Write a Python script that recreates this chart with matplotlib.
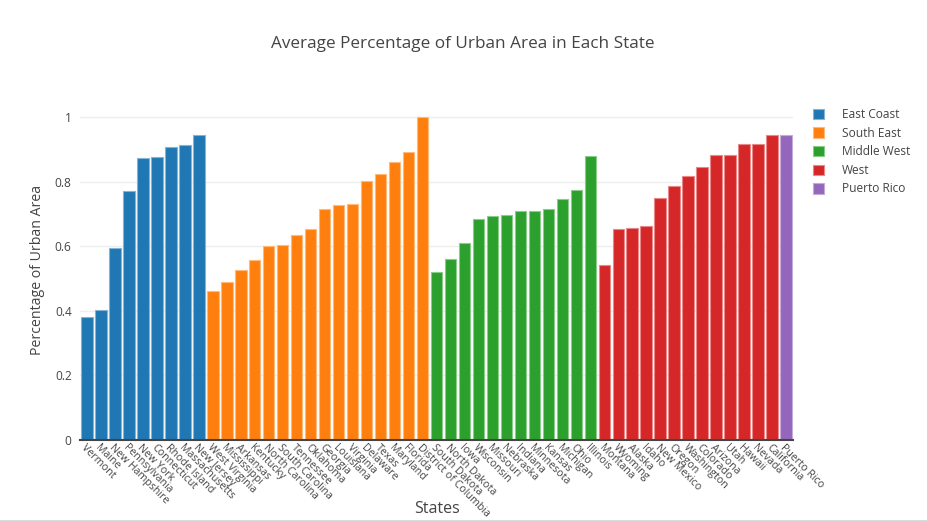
import matplotlib
matplotlib.use("Agg")
import matplotlib.pyplot as plt
from matplotlib.patches import Patch
from matplotlib.lines import Line2D
import matplotlib.colors as mcolors
import numpy as np

plt.rcParams['font.family'] = ['Open Sans', 'DejaVu Sans']

east_states = ["Vermont", "Maine", "New Hampshire", "Pennsylvania", "New York",
               "Connecticut", "Rhode Island", "Massachusetts", "New Jersey"]
east_vals = [0.381, 0.402, 0.593, 0.771, 0.874, 0.877, 0.908, 0.914, 0.943]

southeast_states = ["West Virginia", "Mississippi", "Arkansas", "Kentucky", "North Carolina",
                    "South Carolina", "Tennessee", "Oklahoma", "Georgia", "Louisiana",
                    "Virginia", "Delaware", "Texas", "Maryland", "Florida",
                    "District of Columbia"]
southeast_vals = [0.460, 0.488, 0.526, 0.557, 0.602, 0.605, 0.636, 0.653, 0.716, 0.726,
                  0.730, 0.801, 0.825, 0.860, 0.893, 1.0]

midwest_states = ["South Dakota", "North Dakota", "Iowa", "Wisconsin", "Missouri",
                  "Nebraska", "Indiana", "Minnesota", "Kansas", "Michigan", "Ohio",
                  "Illinois"]
midwest_vals = [0.519, 0.559, 0.610, 0.684, 0.694, 0.698, 0.708, 0.710, 0.714, 0.746,
                0.773, 0.878]

west_states = ["Montana", "Wyoming", "Alaska", "Idaho", "New Mexico", "Oregon",
               "Washington", "Colorado", "Arizona", "Utah", "Hawaii", "Nevada",
               "California"]
west_vals = [0.541, 0.652, 0.657, 0.664, 0.748, 0.786, 0.818, 0.844, 0.881, 0.881,
             0.915, 0.915, 0.944]

pr_states = ["Puerto Rico"]
pr_vals = [0.944]

groups = [
    ("East Coast", east_states, east_vals, "#1f77b4"),
    ("South East", southeast_states, southeast_vals, "#ff7f0e"),
    ("Middle West", midwest_states, midwest_vals, "#2ca02c"),
    ("West", west_states, west_vals, "#d62728"),
    ("Puerto Rico", pr_states, pr_vals, "#9467bd"),
]

fig = plt.figure(figsize=(9.27, 5.21), dpi=100)
ax = fig.add_axes([80/927, 81/521, 713/927, 340/521])

all_states = []
handles = []
pos = 0
for name, states, vals, color in groups:
    x = np.arange(pos, pos + len(states))
    light = tuple(0.55 * np.array(mcolors.to_rgb(color)) + 0.45)
    ax.bar(x, vals, width=0.82, color=color, edgecolor=light, linewidth=0.8, zorder=3)
    all_states.extend(states)
    pos += len(states)
    handles.append(Patch(facecolor=color, edgecolor=light, linewidth=0.8, label=name))

ax.set_xlim(-0.5, len(all_states) - 0.5)
ax.set_ylim(0, 1.0526)
ax.set_yticks([0, 0.2, 0.4, 0.6, 0.8, 1.0])
ax.set_yticklabels(["0", "0.2", "0.4", "0.6", "0.8", "1"])
ax.set_xticks(np.arange(len(all_states)))
ax.set_xticklabels(all_states, rotation=-45, ha='left', va='top',
                   rotation_mode='anchor', fontsize=7.7, color='#444444')
ax.tick_params(axis='both', length=0, colors='#444444')
ax.tick_params(axis='y', labelsize=8.6, pad=6)
ax.tick_params(axis='x', pad=1.5)
ax.grid(axis='y', color='#eeeeee', linewidth=1, zorder=0)
for s in ['top', 'right', 'left']:
    ax.spines[s].set_visible(False)
ax.spines['bottom'].set_color('#444444')
ax.spines['bottom'].set_linewidth(1.5)
ax.spines['bottom'].set_zorder(4)

fig.text(463/927, 1 - 44/521, "Average Percentage of Urban Area in Each State",
         ha='center', va='center', fontsize=12.3, color='#444444')
fig.text(38/927, 1 - 270/521, "Percentage of Urban Area", rotation=90,
         ha='center', va='center', fontsize=10.2, color='#444444')
fig.text(437/927, 1 - 509/521, "States", ha='center', va='center',
         fontsize=11.5, color='#444444')

leg = fig.legend(handles=handles, loc='upper left', bbox_to_anchor=(813/927, 1 - 108/521),
                 bbox_transform=fig.transFigure, frameon=False, fontsize=8.6,
                 handlelength=0.95, handleheight=0.95, handletextpad=1.45,
                 labelspacing=0.47, borderpad=0, borderaxespad=0)
for t in leg.get_texts():
    t.set_color('#444444')

fig.add_artist(Line2D([0, 1], [0.5/521, 0.5/521], color='#d0d5dd', linewidth=1.2,
                      transform=fig.transFigure))

fig.savefig("out.png", dpi=100)
